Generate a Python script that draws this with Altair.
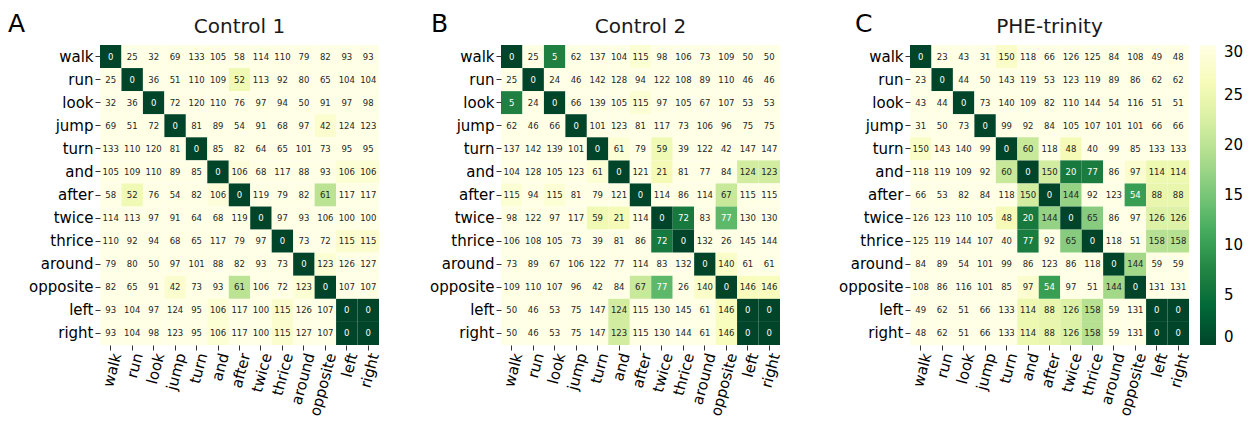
import altair as alt
import pandas as pd

words = ["walk", "run", "look", "jump", "turn", "and", "after", "twice",
         "thrice", "around", "opposite", "left", "right"]

titles = ["Control 1", "Control 2", "PHE-trinity"]
letters = ["A", "B", "C"]

# annotation numbers
labels_a = [
    [0, 25, 32, 69, 133, 105, 58, 114, 110, 79, 82, 93, 93],
    [25, 0, 36, 51, 110, 109, 52, 113, 92, 80, 65, 104, 104],
    [32, 36, 0, 72, 120, 110, 76, 97, 94, 50, 91, 97, 98],
    [69, 51, 72, 0, 81, 89, 54, 91, 68, 97, 42, 124, 123],
    [133, 110, 120, 81, 0, 85, 82, 64, 65, 101, 73, 95, 95],
    [105, 109, 110, 89, 85, 0, 106, 68, 117, 88, 93, 106, 106],
    [58, 52, 76, 54, 82, 106, 0, 119, 79, 82, 61, 117, 117],
    [114, 113, 97, 91, 64, 68, 119, 0, 97, 93, 106, 100, 100],
    [110, 92, 94, 68, 65, 117, 79, 97, 0, 73, 72, 115, 115],
    [79, 80, 50, 97, 101, 88, 82, 93, 73, 0, 123, 126, 127],
    [82, 65, 91, 42, 73, 93, 61, 106, 72, 123, 0, 107, 107],
    [93, 104, 97, 124, 95, 106, 117, 100, 115, 126, 107, 0, 0],
    [93, 104, 98, 123, 95, 106, 117, 100, 115, 127, 107, 0, 0],
]
labels_b = [
    [0, 25, 5, 62, 137, 104, 115, 98, 106, 73, 109, 50, 50],
    [25, 0, 24, 46, 142, 128, 94, 122, 108, 89, 110, 46, 46],
    [5, 24, 0, 66, 139, 105, 115, 97, 105, 67, 107, 53, 53],
    [62, 46, 66, 0, 101, 123, 81, 117, 73, 106, 96, 75, 75],
    [137, 142, 139, 101, 0, 61, 79, 59, 39, 122, 42, 147, 147],
    [104, 128, 105, 123, 61, 0, 121, 21, 81, 77, 84, 124, 123],
    [115, 94, 115, 81, 79, 121, 0, 114, 86, 114, 67, 115, 115],
    [98, 122, 97, 117, 59, 21, 114, 0, 72, 83, 77, 130, 130],
    [106, 108, 105, 73, 39, 81, 86, 72, 0, 132, 26, 145, 144],
    [73, 89, 67, 106, 122, 77, 114, 83, 132, 0, 140, 61, 61],
    [109, 110, 107, 96, 42, 84, 67, 77, 26, 140, 0, 146, 146],
    [50, 46, 53, 75, 147, 124, 115, 130, 145, 61, 146, 0, 0],
    [50, 46, 53, 75, 147, 123, 115, 130, 144, 61, 146, 0, 0],
]
labels_c = [
    [0, 23, 43, 31, 150, 118, 66, 126, 125, 84, 108, 49, 48],
    [23, 0, 44, 50, 143, 119, 53, 123, 119, 89, 86, 62, 62],
    [43, 44, 0, 73, 140, 109, 82, 110, 144, 54, 116, 51, 51],
    [31, 50, 73, 0, 99, 92, 84, 105, 107, 101, 101, 66, 66],
    [150, 143, 140, 99, 0, 60, 118, 48, 40, 99, 85, 133, 133],
    [118, 119, 109, 92, 60, 0, 150, 20, 77, 86, 97, 114, 114],
    [66, 53, 82, 84, 118, 150, 0, 144, 92, 123, 54, 88, 88],
    [126, 123, 110, 105, 48, 20, 144, 0, 65, 86, 97, 126, 126],
    [125, 119, 144, 107, 40, 77, 92, 65, 0, 118, 51, 158, 158],
    [84, 89, 54, 101, 99, 86, 123, 86, 118, 0, 144, 59, 59],
    [108, 86, 116, 101, 85, 97, 54, 97, 51, 144, 0, 131, 131],
    [49, 62, 51, 66, 133, 114, 88, 126, 158, 59, 131, 0, 0],
    [48, 62, 51, 66, 133, 114, 88, 126, 158, 59, 131, 0, 0],
]

# colour values (0..30 scale, clipped at 30)
colors_a = [
    [0, 30, 30, 30, 30, 30, 30, 30, 30, 30, 30, 30, 30],
    [30, 0, 30, 30, 30, 30, 25.5, 30, 30, 30, 30, 30, 30],
    [30, 30, 0, 30, 30, 30, 30, 30, 30, 30, 30, 30, 30],
    [30, 30, 30, 0, 30, 30, 30, 30, 30, 30, 28, 30, 30],
    [30, 30, 30, 30, 0, 30, 30, 30, 30, 30, 30, 30, 30],
    [30, 30, 30, 30, 30, 0, 29, 30, 30, 30, 30, 28.5, 28.5],
    [30, 25.5, 30, 30, 30, 29, 0, 30, 30, 30, 20, 30, 30],
    [30, 30, 30, 30, 30, 30, 30, 0, 30, 30, 30, 30, 30],
    [30, 30, 30, 30, 30, 30, 30, 30, 0, 30, 30, 28, 28],
    [30, 30, 30, 30, 30, 30, 30, 30, 30, 0, 28.5, 30, 30],
    [30, 30, 30, 28, 30, 30, 20, 30, 30, 28.5, 0, 30, 30],
    [30, 30, 30, 30, 30, 28.5, 30, 30, 28, 30, 30, 0, 0],
    [30, 30, 30, 30, 30, 28.5, 30, 30, 28, 30, 30, 0, 0],
]
colors_b = [
    [0, 30, 7, 30, 30, 30, 28.5, 30, 30, 30, 30, 30, 30],
    [30, 0, 30, 30, 30, 30, 30, 30, 30, 30, 30, 30, 30],
    [7, 30, 0, 30, 30, 30, 28.5, 30, 30, 30, 30, 30, 30],
    [30, 30, 30, 0, 30, 30, 30, 30, 30, 30, 30, 30, 30],
    [30, 30, 30, 30, 0, 28.5, 30, 25.5, 30, 30, 30, 30, 30],
    [30, 30, 30, 30, 28.5, 0, 30, 26, 30, 30, 30, 22, 22],
    [28.5, 30, 28.5, 30, 30, 30, 0, 30, 30, 30, 21, 30, 30],
    [30, 30, 30, 30, 25.5, 26, 30, 0, 6, 30, 13, 30, 30],
    [30, 30, 30, 30, 30, 30, 30, 6, 0, 30, 30, 30, 30],
    [30, 30, 30, 30, 30, 30, 30, 30, 30, 0, 27.5, 30, 30],
    [30, 30, 30, 30, 30, 30, 21, 13, 30, 27.5, 0, 26.5, 26.5],
    [30, 30, 30, 30, 30, 22, 30, 30, 30, 30, 26.5, 0, 0],
    [30, 30, 30, 30, 30, 22, 30, 30, 30, 30, 26.5, 0, 0],
]
colors_c = [
    [0, 30, 30, 30, 27.5, 30, 30, 30, 30, 30, 30, 30, 30],
    [30, 0, 30, 30, 30, 30, 30, 30, 30, 30, 30, 30, 30],
    [30, 30, 0, 30, 30, 30, 30, 30, 30, 30, 30, 30, 30],
    [30, 30, 30, 0, 30, 30, 30, 30, 30, 30, 30, 30, 30],
    [27.5, 30, 30, 30, 0, 21, 30, 26, 30, 30, 30, 30, 30],
    [30, 30, 30, 30, 21, 0, 22, 6, 6.5, 30, 28, 25, 25],
    [30, 30, 30, 30, 30, 22, 0, 17, 30, 30, 10, 24.5, 24.5],
    [30, 30, 30, 30, 26, 6, 17, 0, 16, 30, 30, 23, 23],
    [30, 30, 30, 30, 30, 6.5, 30, 16, 0, 30, 30, 19.5, 19.5],
    [30, 30, 30, 30, 30, 30, 30, 30, 30, 0, 18, 30, 30],
    [30, 30, 30, 30, 30, 28, 10, 30, 30, 18, 0, 30, 30],
    [30, 30, 30, 30, 30, 25, 24.5, 23, 19.5, 30, 30, 0, 0],
    [30, 30, 30, 30, 30, 25, 24.5, 23, 19.5, 30, 30, 0, 0],
]

legend_ticks = [0, 5, 10, 15, 20, 25, 30]

FONT = "DejaVu Sans"
PW = 279
PH = 300

# YlGn (ColorBrewer, 9 classes) reversed, spread over 0..30
ylgn_r = ["#004529", "#006837", "#238443", "#41ab5d", "#78c679",
          "#addd8e", "#d9f0a3", "#f7fcb9", "#ffffe5"]
stops = [0, 3.75, 7.5, 11.25, 15, 18.75, 22.5, 26.25, 30]
color_scale = alt.Scale(domain=stops, range=ylgn_r, clamp=True)


def panel(labels, colors, title, letter, letter_dx):
    recs = []
    for i, r in enumerate(words):
        for j, c in enumerate(words):
            recs.append({"row": r, "col": c, "n": labels[i][j], "v": colors[i][j]})
    df = pd.DataFrame(recs)
    base = alt.Chart(df).encode(
        x=alt.X("col:N", sort=words, title=None,
                axis=alt.Axis(labelAngle=-75, labelAlign="right", labelBaseline="middle",
                              labelOffset=6, labelPadding=3)),
        y=alt.Y("row:N", sort=words, title=None, axis=alt.Axis(labelPadding=2)),
    )
    rect = base.mark_rect().encode(
        color=alt.Color("v:Q", scale=color_scale,
                        legend=alt.Legend(title=None, values=legend_ticks, orient="none",
                                          legendX=1100, legendY=0, gradientLength=300,
                                          gradientThickness=16, labelFontSize=15,
                                          labelFont=FONT, labelColor="black",
                                          labelOffset=8, labelBaseline="middle",
                                          direction="vertical")),
    )
    text = base.mark_text(fontSize=8.5, font=FONT).encode(
        text="n:Q",
        color=alt.condition(alt.datum.v < 14, alt.value("white"), alt.value("#262626")),
    )
    tdf = pd.DataFrame({"t": [title], "l": [letter]})
    ttl = alt.Chart(tdf).mark_text(
        fontSize=20, font=FONT, align="center", baseline="alphabetic", color="#1a1a1a"
    ).encode(text="t:N", x=alt.value(PW / 2), y=alt.value(-12))
    let = alt.Chart(tdf).mark_text(
        fontSize=25, font=FONT, align="left", baseline="alphabetic", color="black"
    ).encode(text="l:N", x=alt.value(letter_dx), y=alt.value(-13))
    return alt.layer(rect, text, ttl, let).properties(width=PW, height=PH)


pa = panel(labels_a, colors_a, titles[0], letters[0], -92)
pb = panel(labels_b, colors_b, titles[1], letters[1], -70)
pc = panel(labels_c, colors_c, titles[2], letters[2], -55)

chart = alt.hconcat(
    alt.hconcat(pa, pb, spacing=47),
    pc,
    spacing=55,
).properties(
    padding={"left": 0, "top": 4, "right": 0, "bottom": 0}
).configure_view(stroke=None).configure_axis(
    domain=False, grid=False, ticks=True, tickSize=5, tickColor="#333333",
    labelFontSize=15, labelFont=FONT, labelColor="black",
).resolve_scale(color="shared")

chart.save("out.html", embed_options={"renderer": "svg", "actions": False})
